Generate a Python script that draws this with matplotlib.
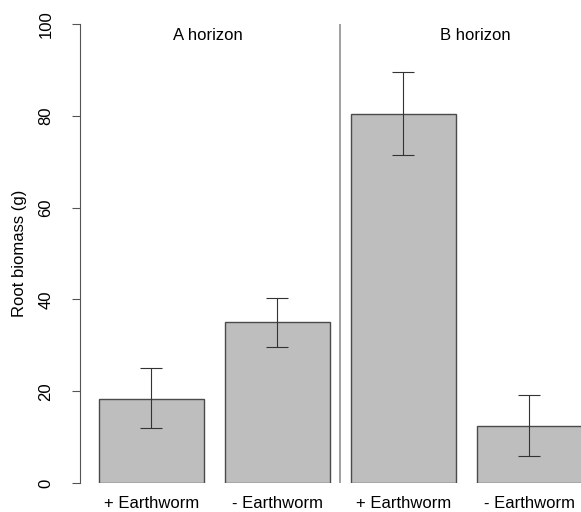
import matplotlib
matplotlib.use("Agg")
import matplotlib.pyplot as plt

plt.rcParams['font.family'] = ['Liberation Sans', 'DejaVu Sans']

labels = ["+ Earthworm", "- Earthworm", "+ Earthworm", "- Earthworm"]
biomass = [18.4, 35.0, 80.5, 12.4]
err_low = [12.0, 29.7, 71.5, 5.8]
err_high = [25.0, 40.3, 89.6, 19.2]
horizons = ["A horizon", "B horizon"]

fig = plt.figure(figsize=(5.81, 5.12), dpi=100)
ax = fig.add_axes([80 / 581, 29 / 512, 501 / 581, 459 / 512])

x = list(range(len(biomass)))
ax.bar(x, biomass, width=0.83, color="#bebebe", edgecolor="#4a4a4a", linewidth=1.0)
lower = [b - l for b, l in zip(biomass, err_low)]
upper = [h - b for b, h in zip(biomass, err_high)]
ax.errorbar(x, biomass, yerr=[lower, upper], fmt="none", ecolor="#333333",
            elinewidth=0.8, capsize=8, capthick=0.8)

# divider between the two soil horizons
ax.axvline(1.5, ymin=0.0, ymax=1.0, color="#999999", linewidth=1.3)
ax.text(0.45, 97.5, horizons[0], ha="center", va="center", fontsize=12)
ax.text(2.57, 97.5, horizons[1], ha="center", va="center", fontsize=12)

ax.set_xlim(-0.567, 3.41)
ax.set_ylim(0, 100)
ax.set_xticks(x)
ax.set_xticklabels(labels, fontsize=12)
ax.tick_params(axis="x", length=0, pad=9)
ax.set_yticks([0, 20, 40, 60, 80, 100])
ax.set_yticklabels(["0", "20", "40", "60", "80", "100"], rotation=90, va="center", fontsize=12)
ax.tick_params(axis="y", length=6, width=0.8, color="#555555", pad=13)
ax.set_ylabel("Root biomass (g)", fontsize=12, labelpad=8)

for s in ["top", "right", "bottom"]:
    ax.spines[s].set_visible(False)
ax.spines["left"].set_color("#555555")
ax.spines["left"].set_linewidth(0.8)

fig.savefig("out.png", dpi=100)
